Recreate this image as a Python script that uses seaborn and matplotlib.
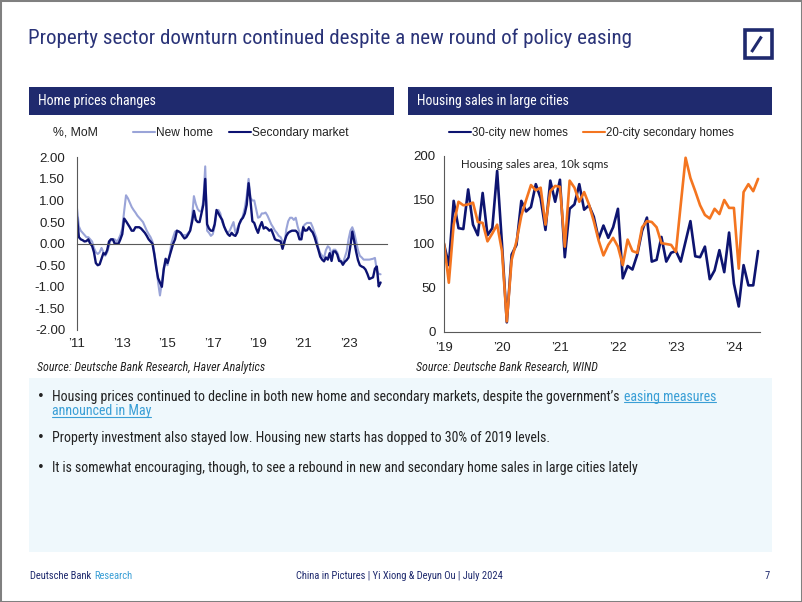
import numpy as np
import pandas as pd
import matplotlib
matplotlib.use("Agg")
import matplotlib.pyplot as plt
import seaborn as sns
from matplotlib import font_manager
from matplotlib.patches import Rectangle
from matplotlib.lines import Line2D

# ---------------- data ----------------
# Home prices, % MoM, monthly Jan 2011 - Jun 2024
new_home = [
    0.82, 0.40, 0.30, 0.25, 0.20, 0.15, 0.15, 0.10, 0.05, -0.10, -0.20, -0.24,
    -0.20, -0.10, -0.20, -0.28, -0.20, -0.05, 0.10, 0.10, 0.10, 0.05, 0.10, 0.20,
    0.35, 0.75, 1.12, 1.05, 0.95, 0.85, 0.78, 0.72, 0.65, 0.60, 0.55, 0.50,
    0.40, 0.30, 0.22, 0.15, 0.05, -0.20, -0.50, -0.90, -1.20, -0.90, -0.55, -0.45,
    -0.50, -0.30, 0.00, 0.15, 0.28, 0.30, 0.28, 0.25, 0.20, 0.20, 0.20, 0.25,
    0.30, 0.60, 1.10, 0.92, 0.80, 0.75, 0.75, 1.00, 1.79, 0.30, 0.25, 0.18,
    0.22, 0.40, 0.70, 0.78, 0.70, 0.50, 0.40, 0.30, 0.25, 0.30, 0.40, 0.50,
    0.26, 0.35, 0.45, 0.52, 0.65, 0.83, 1.10, 1.50, 1.06, 1.00, 1.00, 0.80,
    0.60, 0.62, 0.70, 0.70, 0.72, 0.65, 0.55, 0.45, 0.38, 0.30, 0.25, 0.18,
    0.15, 0.05, -0.02, 0.33, 0.52, 0.60, 0.60, 0.55, 0.60, 0.40, 0.26, 0.18,
    0.40, 0.45, 0.48, 0.48, 0.48, 0.38, 0.25, 0.13, -0.10, -0.22, -0.28, -0.33,
    -0.15, -0.06, -0.10, -0.26, -0.14, -0.14, -0.20, -0.33, -0.40, -0.45, -0.32, -0.18,
    0.10, 0.30, 0.38, 0.26, 0.06, -0.15, -0.28, -0.32, -0.37, -0.37, -0.37, -0.37,
    -0.36, -0.35, -0.33, -0.62, -0.70, -0.71,
]
secondary_market = [
    0.62, 0.15, 0.10, 0.08, 0.05, 0.06, 0.10, 0.00, -0.05, -0.20, -0.45, -0.50,
    -0.48, -0.35, -0.22, -0.25, -0.15, 0.05, 0.10, 0.10, 0.00, 0.00, 0.00, 0.10,
    0.22, 0.58, 0.52, 0.45, 0.38, 0.30, 0.30, 0.38, 0.38, 0.38, 0.35, 0.30,
    0.25, 0.18, 0.10, 0.05, 0.00, -0.25, -0.55, -0.80, -0.90, -1.00, -0.60, -0.35,
    -0.45, -0.30, -0.15, 0.00, 0.10, 0.30, 0.28, 0.25, 0.18, 0.12, 0.15, 0.22,
    0.30, 0.50, 0.76, 0.55, 0.50, 0.50, 0.70, 0.90, 1.50, 0.45, 0.35, 0.30,
    0.30, 0.45, 0.78, 0.70, 0.62, 0.55, 0.40, 0.30, 0.22, 0.18, 0.25, 0.20,
    0.18, 0.26, 0.45, 0.55, 0.60, 0.70, 0.90, 1.40, 1.00, 0.52, 0.48, 0.35,
    0.25, 0.40, 0.50, 0.35, 0.38, 0.35, 0.30, 0.33, 0.22, 0.10, 0.08, 0.07,
    0.05, -0.12, 0.05, 0.18, 0.25, 0.28, 0.30, 0.30, 0.30, 0.25, 0.10, 0.10,
    0.38, 0.30, 0.31, 0.38, 0.31, 0.26, 0.15, 0.00, -0.14, -0.30, -0.37, -0.41,
    -0.32, -0.37, -0.22, -0.40, -0.18, -0.18, -0.25, -0.40, -0.41, -0.49, -0.42, -0.38,
    -0.32, -0.05, 0.28, 0.06, -0.18, -0.38, -0.50, -0.53, -0.55, -0.60, -0.70, -0.82,
    -0.80, -0.78, -0.58, -0.53, -0.99, -0.90,
]
left_start = "2011-01-01"
left_tick_years = [2011, 2013, 2015, 2017, 2019, 2021, 2023]
left_tick_labels = ["\u201911", "\u201913", "\u201915", "\u201917", "\u201919", "\u201921", "\u201923"]
left_yticks = [-2.0, -1.5, -1.0, -0.5, 0.0, 0.5, 1.0, 1.5, 2.0]

# Housing sales area, 10k sqm, monthly Jan 2019 - Jun 2024
new_homes_30city = [
    100, 76, 149, 118, 117, 162, 122, 110, 158, 110, 118, 183,
    100, 11, 88, 99, 149, 137, 142, 168, 152, 116, 172, 148,
    173, 85, 140, 145, 168, 139, 144, 131, 106, 121, 107, 119,
    140, 61, 75, 71, 88, 115, 130, 80, 82, 108, 80, 90,
    92, 80, 103, 126, 86, 85, 97, 60, 70, 93, 68, 113,
    55, 29, 76, 53, 53, 92,
]
secondary_20city = [
    101, 56, 122, 148, 144, 145, 147, 125, 124, 103, 112, 122,
    92, 12, 82, 103, 132, 150, 167, 161, 164, 122, 160, 166,
    165, 97, 172, 164, 148, 159, 145, 126, 104, 87, 99, 107,
    97, 76, 105, 92, 90, 119, 126, 125, 119, 101, 100, 99,
    91, 145, 198, 175, 160, 144, 133, 129, 140, 134, 150, 141,
    141, 72, 159, 168, 160, 174,
]
right_start = "2019-01-01"
right_tick_years = [2019, 2020, 2021, 2022, 2023, 2024]
right_tick_labels = ["\u201919", "\u201920", "\u201921", "\u201922", "\u201923", "\u201924"]
right_yticks = [0, 50, 100, 150, 200]

left_names = ["New home", "Secondary market"]
right_names = ["30-city new homes", "20-city secondary homes"]

# ---------------- style ----------------
sns.set_style("white")
avail = {f.name for f in font_manager.fontManager.ttflist}


def pick(*names):
    for n in names:
        if n in avail:
            return n
    return "DejaVu Sans"


PAGE_FONT = pick("Liberation Sans Narrow", "Roboto Condensed", "Open Sans Condensed", "Roboto")
CHART_FONT = pick("Liberation Sans", "Arial", "DejaVu Sans")
plt.rcParams["font.family"] = [CHART_FONT, "DejaVu Sans"]
plt.rcParams["axes.unicode_minus"] = False

NAVY = "#1f2a6e"
TITLE_C = "#2a3378"
TEXT_C = "#222222"
AX_C = "#595959"
LINK_C = "#3a9fd6"

W, H = 802, 602
fig = plt.figure(figsize=(W / 100, H / 100), dpi=100)
fig.patch.set_facecolor("white")
renderer = fig.canvas.get_renderer()


def fx(px):
    return px / W


def fy(py):
    return 1 - py / H


def ftext(x, y, s, target_w=None, **kw):
    t = fig.text(fx(x), fy(y), s, **kw)
    if target_w is not None:
        w = t.get_window_extent(renderer).width
        t.set_fontsize(t.get_fontsize() * target_w / w)
    return t


def right_of(t, gap=0):
    bb = t.get_window_extent(renderer)
    return bb.x1 + gap


# page border
fig.add_artist(Rectangle((0, 0), 1, 1, transform=fig.transFigure, fill=False,
                         edgecolor="#808080", lw=2.2))

# title
ftext(28, 38, "Property sector downturn continued despite a new round of policy easing",
      target_w=603, fontsize=15, family=[PAGE_FONT, "DejaVu Sans"], color=TITLE_C,
      va="center", ha="left")

# logo
fig.add_artist(Rectangle((fx(744.5), fy(57.5)), (771.5 - 744.5) / W, 27 / H,
                         transform=fig.transFigure, fill=False, edgecolor=NAVY, lw=2.6))
fig.add_artist(Line2D([fx(751.5), fx(761.5)], [fy(52), fy(36.5)],
                      transform=fig.transFigure, color=NAVY, lw=2.2, solid_capstyle="butt"))

# header bars
fig.add_artist(Rectangle((fx(29), fy(115)), (394 - 29) / W, 28 / H,
                         transform=fig.transFigure, facecolor=NAVY, edgecolor="none"))
fig.add_artist(Rectangle((fx(408), fy(115)), (772 - 408) / W, 28 / H,
                         transform=fig.transFigure, facecolor=NAVY, edgecolor="none"))
ftext(38, 101.5, "Home prices changes", target_w=118, fontsize=10,
      family=[PAGE_FONT, "DejaVu Sans"], color="white", va="center")
ftext(417, 101.5, "Housing sales in large cities", target_w=151, fontsize=10,
      family=[PAGE_FONT, "DejaVu Sans"], color="white", va="center")

# ---------------- left chart ----------------
ldates = pd.date_range(left_start, periods=len(new_home), freq="MS")
lx = ldates.year + (ldates.month - 1) / 12.0
df_left = pd.DataFrame({
    "x": np.concatenate([lx, lx]),
    "value": new_home + secondary_market,
    "series": [left_names[0]] * len(new_home) + [left_names[1]] * len(secondary_market),
})
ax1 = fig.add_axes([fx(77), fy(330), (387 - 77) / W, (330 - 157.3) / H])
sns.lineplot(data=df_left, x="x", y="value", hue="series", hue_order=left_names,
             palette={left_names[0]: "#9aa4d8", left_names[1]: "#0c1272"},
             ax=ax1, legend=True, estimator=None)
for ln, lw in zip(ax1.lines[:2], [1.5, 1.7]):
    ln.set_linewidth(lw)
ax1.set_xlim(2011, 2024.7)
ax1.set_ylim(-2, 2)
ax1.set_xlabel("")
ax1.set_ylabel("")
ax1.set_yticks(left_yticks)
ax1.set_yticklabels([f"{v:.2f}" for v in left_yticks])
ax1.spines["top"].set_visible(False)
ax1.spines["right"].set_visible(False)
ax1.spines["left"].set_color(AX_C)
ax1.spines["left"].set_linewidth(0.8)
ax1.spines["bottom"].set_position(("data", 0))
ax1.spines["bottom"].set_color(AX_C)
ax1.spines["bottom"].set_linewidth(0.8)
ax1.set_xticks(left_tick_years)
ax1.tick_params(axis="x", direction="out", length=3, width=0.8, color=AX_C, labelbottom=False)
ax1.tick_params(axis="y", direction="out", length=3.5, width=0.8, color=AX_C,
                labelsize=9.5, labelcolor=TEXT_C, pad=5)
sec1 = ax1.secondary_xaxis("bottom")
sec1.set_xticks(left_tick_years)
sec1.set_xticklabels(left_tick_labels)
sec1.tick_params(axis="x", length=0, labelsize=9.5, labelcolor=TEXT_C, pad=6)
sec1.spines["bottom"].set_visible(False)
ax1.set_facecolor("none")
h1, l1 = ax1.get_legend_handles_labels()
ax1.legend(h1, l1, loc="center left", bbox_to_anchor=(fx(133), fy(133)),
           bbox_transform=fig.transFigure, ncol=2, frameon=False, fontsize=8.6,
           handlelength=1.8, handletextpad=0.1, columnspacing=1.4,
           borderpad=0, borderaxespad=0, labelcolor=TEXT_C)
ftext(53, 133, "%, MoM", fontsize=8.8, color=TEXT_C, va="center")

# ---------------- right chart ----------------
rdates = pd.date_range(right_start, periods=len(new_homes_30city), freq="MS")
rx = rdates.year + (rdates.month - 1) / 12.0
df_right = pd.DataFrame({
    "x": np.concatenate([rx, rx]),
    "value": new_homes_30city + secondary_20city,
    "series": [right_names[0]] * len(new_homes_30city) + [right_names[1]] * len(secondary_20city),
})
ax2 = fig.add_axes([fx(444), fy(332), (760 - 444) / W, (332 - 156) / H])
sns.lineplot(data=df_right, x="x", y="value", hue="series", hue_order=right_names,
             palette={right_names[0]: "#0d1470", right_names[1]: "#f47520"},
             ax=ax2, legend=True, estimator=None)
for ln in ax2.lines[:2]:
    ln.set_linewidth(1.9)
ax2.set_xlim(2019, 2024.45)
ax2.set_ylim(0, 200)
ax2.set_xlabel("")
ax2.set_ylabel("")
ax2.set_yticks(right_yticks)
ax2.set_xticks(right_tick_years)
ax2.set_xticklabels(right_tick_labels)
ax2.spines["top"].set_visible(False)
ax2.spines["right"].set_visible(False)
for s in ["left", "bottom"]:
    ax2.spines[s].set_color(AX_C)
    ax2.spines[s].set_linewidth(0.8)
ax2.tick_params(axis="both", direction="out", length=4, width=0.8, color=AX_C,
                labelsize=9.5, labelcolor=TEXT_C)
ax2.tick_params(axis="y", pad=2)
ax2.tick_params(axis="x", pad=3)
ax2.set_facecolor("none")
h2, l2 = ax2.get_legend_handles_labels()
ax2.legend(h2, l2, loc="center left", bbox_to_anchor=(fx(449), fy(133)),
           bbox_transform=fig.transFigure, ncol=2, frameon=False, fontsize=8.3,
           handlelength=1.9, handletextpad=0.1, columnspacing=1.3,
           borderpad=0, borderaxespad=0, labelcolor=TEXT_C)
ann = ax2.text(0.055, 0.985, "Housing sales area, 10k sqms", transform=ax2.transAxes,
               fontsize=9.2, color=TEXT_C, va="top", ha="left",
               family=["Lato", "DejaVu Sans"])
aw = ann.get_window_extent(renderer).width
ann.set_fontsize(9.2 * 146 / aw)

# sources
ftext(37, 367.5, "Source: Deutsche Bank Research, Haver Analytics", target_w=227,
      fontsize=8, style="italic", family=[PAGE_FONT, "DejaVu Sans"], color=TEXT_C, va="center")
ftext(416, 367.5, "Source: Deutsche Bank Research, WIND", target_w=182,
      fontsize=8, style="italic", family=[PAGE_FONT, "DejaVu Sans"], color=TEXT_C, va="center")

# bullet box
fig.add_artist(Rectangle((fx(29), fy(552)), (772 - 29) / W, (552 - 378) / H,
                         transform=fig.transFigure, facecolor="#eff8fc", edgecolor="none"))
bfam = [PAGE_FONT, "DejaVu Sans"]
b1 = ftext(52, 396.5, "Housing prices continued to decline in both new home and secondary markets, despite the government\u2019s",
           target_w=575, fontsize=10.5, family=bfam, color=TEXT_C, va="center")
bsize = b1.get_fontsize()
x_link = right_of(b1) + 4
link1 = fig.text(x_link / W, fy(396.5), "easing measures", fontsize=bsize, family=bfam,
                 color=LINK_C, va="center")
link2 = ftext(52, 411, "announced in May", fontsize=bsize, family=bfam, color=LINK_C, va="center")
for lt in (link1, link2):
    bb = lt.get_window_extent(renderer)
    yline = (bb.y0 + 1.5) / H
    fig.add_artist(Line2D([bb.x0 / W, bb.x1 / W], [yline, yline], transform=fig.transFigure,
                          color=LINK_C, lw=0.8))
ftext(52, 438, "Property investment also stayed low. Housing new starts has dopped to 30% of 2019 levels.",
      fontsize=bsize, family=bfam, color=TEXT_C, va="center")
ftext(52, 468, "It is somewhat encouraging, though, to see a rebound in new and secondary home sales in large cities lately",
      fontsize=bsize, family=bfam, color=TEXT_C, va="center")
for yb in (396.5, 438, 468):
    ftext(37, yb, "\u2022", fontsize=bsize * 0.95, family=["DejaVu Sans"], color=TEXT_C,
          va="center")

# footer
f1 = ftext(30, 576, "Deutsche Bank", target_w=62, fontsize=8, family=bfam, color=NAVY, va="center")
fig.text(right_of(f1, 3) / W, fy(576), "Research", fontsize=f1.get_fontsize(), family=bfam,
         color=LINK_C, va="center")
ftext(399.5, 576, "China in Pictures | Yi Xiong & Deyun Ou | July 2024", target_w=209, fontsize=8,
      family=bfam, color=NAVY, va="center", ha="center")
ftext(770, 576, "7", fontsize=f1.get_fontsize(), family=bfam, color=NAVY, va="center", ha="right")

fig.savefig("out.png", dpi=100, facecolor="white")
